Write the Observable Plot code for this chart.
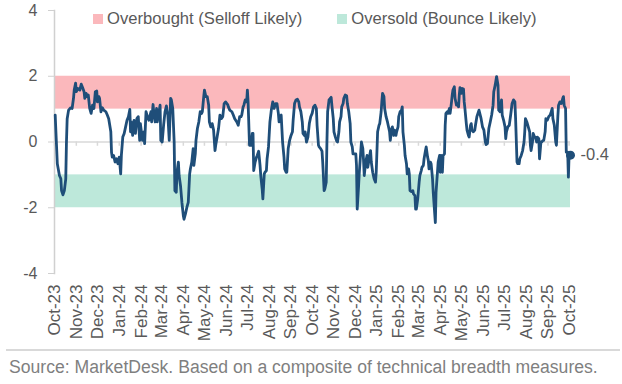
<!DOCTYPE html>
<html>
<head>
<meta charset="utf-8">
<script src="https://cdn.jsdelivr.net/npm/d3@7"></script>
<script src="https://cdn.jsdelivr.net/npm/@observablehq/plot@0.6"></script>
<style>
  html, body { margin: 0; padding: 0; background: #fff; }
  #wrap { position: relative; width: 622px; height: 384px; font-family: "Liberation Sans", Arial, sans-serif; }
  .legend { position: absolute; top: 9px; left: 93px; display: flex; font-size: 16.6px; color: #595959; white-space: nowrap; }
  .legend .item { display: flex; align-items: center; }
  .legend .sw { width: 10px; height: 10px; margin-right: 4px; }
  #caption { margin: 4px 2px 0 6px; border-top: 2px solid #d9d9d9; padding: 6px 0 0 3px; font-size: 17.6px; color: #7f7f7f; white-space: nowrap; }
</style>
</head>
<body>
<div id="wrap">
  <div id="chart"></div>
  <div class="legend" id="legend"></div>
  <div id="caption"></div>
</div>
<script>
const dates = [
"2023-10-02","2023-10-03","2023-10-05","2023-10-08","2023-10-10","2023-10-11","2023-10-13","2023-10-15","2023-10-17","2023-10-18",
"2023-10-19","2023-10-21","2023-10-24","2023-10-26","2023-10-28","2023-10-29","2023-10-31","2023-11-01","2023-11-03","2023-11-06",
"2023-11-08","2023-11-10","2023-11-12","2023-11-13","2023-11-15","2023-11-16","2023-11-18","2023-11-20","2023-11-22","2023-11-24",
"2023-11-26","2023-11-28","2023-11-30","2023-12-01","2023-12-03","2023-12-04","2023-12-06","2023-12-08","2023-12-10","2023-12-13",
"2023-12-15","2023-12-17","2023-12-20","2023-12-21","2023-12-22","2023-12-24","2023-12-26","2023-12-28","2023-12-30","2024-01-01",
"2024-01-03","2024-01-04","2024-01-06","2024-01-08","2024-01-10","2024-01-12","2024-01-14","2024-01-16","2024-01-17","2024-01-18",
"2024-01-20","2024-01-22","2024-01-24","2024-01-26","2024-01-28","2024-01-30","2024-01-31","2024-02-03","2024-02-05","2024-02-06",
"2024-02-08","2024-02-10","2024-02-12","2024-02-15","2024-02-16","2024-02-18","2024-02-19","2024-02-21","2024-02-23","2024-02-24",
"2024-02-26","2024-02-28","2024-02-29","2024-03-02","2024-03-04","2024-03-06","2024-03-08","2024-03-10","2024-03-12","2024-03-14",
"2024-03-15","2024-03-17","2024-03-19","2024-03-20","2024-03-22","2024-03-23","2024-03-25","2024-03-26","2024-03-28","2024-03-30",
"2024-04-01","2024-04-02","2024-04-04","2024-04-06","2024-04-08","2024-04-10","2024-04-11","2024-04-13","2024-04-15","2024-04-16",
"2024-04-18","2024-04-19","2024-04-21","2024-04-23","2024-04-25","2024-04-27","2024-04-28","2024-04-30","2024-05-01","2024-05-03",
"2024-05-05","2024-05-07","2024-05-08","2024-05-10","2024-05-12","2024-05-14","2024-05-16","2024-05-17","2024-05-19","2024-05-21",
"2024-05-23","2024-05-25","2024-05-27","2024-05-29","2024-05-31","2024-06-03","2024-06-04","2024-06-06","2024-06-09","2024-06-11",
"2024-06-13","2024-06-16","2024-06-18","2024-06-20","2024-06-22","2024-06-23","2024-06-25","2024-06-26","2024-06-28","2024-06-30",
"2024-07-01","2024-07-02","2024-07-04","2024-07-06","2024-07-08","2024-07-09","2024-07-10","2024-07-12","2024-07-14","2024-07-15",
"2024-07-17","2024-07-19","2024-07-20","2024-07-22","2024-07-23","2024-07-25","2024-07-26","2024-07-28","2024-07-29","2024-07-31",
"2024-08-02","2024-08-04","2024-08-06","2024-08-07","2024-08-08","2024-08-10","2024-08-12","2024-08-14","2024-08-15","2024-08-16",
"2024-08-18","2024-08-20","2024-08-22","2024-08-23","2024-08-25","2024-08-26","2024-08-28","2024-08-30","2024-09-01","2024-09-03",
"2024-09-04","2024-09-06","2024-09-08","2024-09-10","2024-09-12","2024-09-13","2024-09-15","2024-09-17","2024-09-18","2024-09-20",
"2024-09-21","2024-09-23","2024-09-25","2024-09-27","2024-09-29","2024-10-01","2024-10-03","2024-10-05","2024-10-07","2024-10-08",
"2024-10-10","2024-10-11","2024-10-13","2024-10-15","2024-10-16","2024-10-18","2024-10-19","2024-10-21","2024-10-22","2024-10-23",
"2024-10-25","2024-10-27","2024-10-28","2024-10-29","2024-10-31","2024-11-01","2024-11-03","2024-11-05","2024-11-06","2024-11-08",
"2024-11-09","2024-11-11","2024-11-12","2024-11-14","2024-11-15","2024-11-17","2024-11-19","2024-11-20","2024-11-22","2024-11-24",
"2024-11-25","2024-11-27","2024-11-28","2024-11-30","2024-12-02","2024-12-03","2024-12-04","2024-12-06","2024-12-07","2024-12-09",
"2024-12-10","2024-12-12","2024-12-13","2024-12-14","2024-12-16","2024-12-18","2024-12-19","2024-12-21","2024-12-23","2024-12-24",
"2024-12-26","2024-12-28","2024-12-30","2024-12-31","2025-01-01","2025-01-02","2025-01-04","2025-01-05","2025-01-07","2025-01-08",
"2025-01-09","2025-01-11","2025-01-12","2025-01-14","2025-01-16","2025-01-17","2025-01-19","2025-01-20","2025-01-22","2025-01-23",
"2025-01-25","2025-01-26","2025-01-28","2025-01-29","2025-01-31","2025-02-01","2025-02-03","2025-02-05","2025-02-06","2025-02-07",
"2025-02-09","2025-02-10","2025-02-12","2025-02-13","2025-02-15","2025-02-16","2025-02-17","2025-02-19","2025-02-21","2025-02-22",
"2025-02-24","2025-02-25","2025-02-26","2025-02-28","2025-03-02","2025-03-03","2025-03-05","2025-03-06","2025-03-08","2025-03-09",
"2025-03-11","2025-03-12","2025-03-14","2025-03-15","2025-03-16","2025-03-18","2025-03-19","2025-03-21","2025-03-22","2025-03-23",
"2025-03-25","2025-03-26","2025-03-28","2025-03-29","2025-03-31","2025-04-01","2025-04-02","2025-04-04","2025-04-05","2025-04-07",
"2025-04-08","2025-04-09","2025-04-11","2025-04-12","2025-04-14","2025-04-15","2025-04-17","2025-04-18","2025-04-19","2025-04-21",
"2025-04-22","2025-04-24","2025-04-25","2025-04-27","2025-04-28","2025-04-29","2025-05-01","2025-05-02","2025-05-04","2025-05-05",
"2025-05-06","2025-05-08","2025-05-09","2025-05-11","2025-05-12","2025-05-14","2025-05-15","2025-05-16","2025-05-18","2025-05-20",
"2025-05-21","2025-05-23","2025-05-26","2025-05-29","2025-05-31","2025-06-02","2025-06-04","2025-06-05","2025-06-07","2025-06-09",
"2025-06-11","2025-06-13","2025-06-15","2025-06-16","2025-06-18","2025-06-20","2025-06-22","2025-06-23","2025-06-25","2025-06-27",
"2025-06-28","2025-06-30","2025-07-02","2025-07-03","2025-07-04","2025-07-06","2025-07-08","2025-07-10","2025-07-12","2025-07-14",
"2025-07-16","2025-07-17","2025-07-19","2025-07-20","2025-07-22","2025-07-23","2025-07-25","2025-07-27","2025-07-29","2025-07-30",
"2025-07-31","2025-08-02","2025-08-04","2025-08-06","2025-08-07","2025-08-08","2025-08-10","2025-08-11","2025-08-13","2025-08-14",
"2025-08-16","2025-08-17","2025-08-19","2025-08-20","2025-08-22","2025-08-23","2025-08-25","2025-08-26","2025-08-28","2025-08-29",
"2025-08-31","2025-09-02","2025-09-04","2025-09-05","2025-09-07","2025-09-08","2025-09-10","2025-09-12","2025-09-13","2025-09-15",
"2025-09-16","2025-09-18","2025-09-20","2025-09-22","2025-09-23","2025-09-24","2025-09-26","2025-09-27","2025-09-29","2025-09-30",
"2025-10-01","2025-10-03"
];
const values = [
0.82,0.31,-0.66,-1.02,-1.12,-1.48,-1.61,-1.48,-1.12,0.00,
0.71,0.97,1.04,1.02,1.33,1.58,1.79,1.53,1.63,1.58,
1.76,1.65,1.53,1.33,1.48,1.38,1.43,1.02,0.87,1.12,
1.02,1.53,1.55,1.22,1.38,1.33,0.92,1.04,0.97,0.92,
0.82,0.71,0.31,-0.31,-0.46,-0.41,-0.61,-0.51,-0.66,-0.46,
-0.97,-0.41,0.15,0.26,0.46,0.66,0.77,0.99,0.31,0.61,
0.20,0.66,0.26,0.71,0.77,0.05,0.56,0.05,0.31,-0.05,
0.92,0.77,0.66,0.92,0.61,1.14,0.92,0.61,1.02,0.61,
0.87,1.12,0.05,0.00,0.51,0.92,1.10,0.82,0.05,1.33,
1.28,1.02,0.00,-1.48,-1.53,-0.92,-0.61,-1.02,-1.33,-1.84,
-2.24,-2.35,-2.19,-1.99,-1.84,-0.97,-0.82,-0.61,-0.20,-0.71,
-0.36,0.05,0.41,0.61,0.92,0.87,0.92,1.38,1.58,1.38,
1.38,1.12,0.61,0.46,0.56,0.36,-0.26,-0.10,0.15,0.41,
0.82,0.71,0.77,1.17,1.22,1.14,1.07,0.97,0.92,0.82,
0.71,0.61,0.51,0.77,0.77,0.82,1.07,1.12,1.28,1.22,
1.58,1.22,-0.10,-0.10,0.26,0.26,-0.87,-0.61,-0.46,-0.41,
-0.28,-0.71,-1.02,-1.43,-1.73,-0.97,-0.92,-0.87,-0.51,-0.15,
0.61,0.97,1.22,1.12,1.02,1.17,1.17,0.87,0.61,0.77,
0.82,0.00,-0.46,-0.82,-0.92,-0.92,-0.20,0.05,0.20,0.31,
0.66,1.17,1.28,1.30,1.22,1.07,0.92,0.61,0.26,0.20,
0.31,0.00,0.15,0.56,0.77,0.87,1.07,1.12,1.02,0.51,
-0.10,-0.15,-0.20,-0.28,-0.61,-1.48,-1.43,-1.22,0.00,0.92,
1.28,1.33,1.36,1.12,0.71,0.31,0.15,0.02,0.00,0.31,
0.61,0.77,1.07,1.17,1.33,1.43,1.41,1.17,0.92,0.56,
0.00,-0.15,-0.36,-0.36,-0.36,-0.71,-2.04,-1.33,-0.92,-0.31,
0.00,-0.20,-0.56,-1.02,-0.61,-0.41,-0.77,-0.51,-0.26,-0.61,
-0.92,-1.12,-1.22,-0.92,-0.31,0.31,0.51,0.56,0.92,1.22,
1.48,1.38,1.02,0.77,0.61,0.51,0.31,0.05,0.41,0.46,
0.20,0.36,0.20,0.31,0.46,0.77,0.92,0.97,1.07,0.31,
-0.10,-0.41,-0.66,-0.97,-0.82,-0.97,-1.48,-1.51,-1.48,-1.58,
-1.63,-2.04,-2.04,-1.73,-1.22,-1.02,-0.87,-0.77,-0.71,-0.51,
-0.26,-0.15,-0.46,-0.56,-0.82,-0.61,-0.66,-1.12,-1.53,-1.84,
-2.45,-1.53,-0.92,-0.61,-0.41,-0.92,-0.41,-0.92,-0.41,-0.36,
0.51,0.87,0.92,0.87,1.02,0.87,1.22,1.43,1.58,1.68,
1.33,1.12,1.17,1.07,1.43,1.65,1.48,1.63,1.61,1.22,
1.02,0.56,0.36,0.20,0.15,0.51,0.56,0.36,0.31,0.36,
0.51,0.77,0.97,0.71,0.46,0.36,0.00,-0.08,-0.05,0.41,
0.61,0.82,1.12,1.53,1.73,1.99,1.73,0.97,0.92,1.28,
0.82,0.66,0.46,0.10,0.31,0.46,0.51,0.82,1.17,1.28,
1.22,0.71,-0.61,-0.66,-0.66,-0.51,-0.41,-0.26,0.00,0.31,
0.71,0.61,0.46,0.31,-0.10,-0.26,0.00,0.26,0.15,0.15,
0.00,0.15,0.10,-0.51,0.00,0.00,0.05,0.05,0.31,0.71,
0.66,0.77,0.82,0.87,1.02,0.71,0.51,0.00,-0.10,0.77,
1.12,1.22,1.17,1.33,1.38,1.12,1.02,-0.31,-0.31,-1.07,
-0.41,-0.40
];
const yTicks = [-4, -2, 0, 2, 4];
const axisStart = "2023-10-01";
const overbought = [1, 2];
const oversold = [-2, -1];
const legendLabels = ["Overbought (Selloff Likely)", "Oversold (Bounce Likely)"];
const sourceText = "Source: MarketDesk. Based on a composite of technical breadth measures.";

const navy = "#1f4e79", pink = "#fbb8bc", mint = "#bde8da", grid = "#d9d9d9", ink = "#595959";

const series = dates.map((d, i) => ({date: new Date(d), value: values[i]}));
const x0 = new Date(axisStart);
const x1 = series[series.length - 1].date;
const last = [series[series.length - 1]];
const months = d3.utcMonth.range(x0, d3.utcDay.offset(x1, 1));

const chart = Plot.plot({
  width: 622,
  height: 345,
  marginLeft: 54,
  marginRight: 52,
  marginTop: 10,
  marginBottom: 72,
  style: {fontFamily: "'Liberation Sans', Arial, sans-serif", fontSize: "16px", color: ink, background: "#fff"},
  x: {type: "utc", domain: [x0, x1]},
  y: {domain: [-4, 4]},
  marks: [
    Plot.rect([overbought], {x1: () => x0, x2: () => x1, y1: d => d[0], y2: d => d[1], fill: pink}),
    Plot.rect([oversold], {x1: () => x0, x2: () => x1, y1: d => d[0], y2: d => d[1], fill: mint}),
    Plot.ruleY([0], {stroke: grid, strokeWidth: 1.5}),
    Plot.ruleX(months, {x: d => d, y1: 0, y2: -0.13, stroke: grid, strokeWidth: 1.5}),
    Plot.frame({anchor: "left", stroke: "#d0d0d0", strokeWidth: 1.5}),
    Plot.axisY({ticks: yTicks, tickFormat: d => String(d), tickSize: 6, tickPadding: 11, stroke: "#d0d0d0", fill: ink, fontSize: 16, label: null}),
    Plot.axisX({ticks: months, tickFormat: d3.utcFormat("%b-%y"), tickRotate: -90, tickSize: 0, tickPadding: 11, fill: ink, fontSize: 17, label: null}),
    Plot.lineY(series, {x: "date", y: "value", stroke: navy, strokeWidth: 2.8, strokeLinejoin: "round"}),
    Plot.dot(last, {x: "date", y: "value", r: 4.5, fill: navy}),
    Plot.text(last, {x: "date", y: "value", text: d => d.value.toFixed(1), dx: 10, textAnchor: "start", fontSize: 16.5, fill: ink})
  ]
});
document.getElementById("chart").append(chart);

const legend = document.getElementById("legend");
[[legendLabels[0], pink, "0"], [legendLabels[1], mint, "35px"]].forEach(([label, color, gap]) => {
  const item = document.createElement("div");
  item.className = "item";
  item.style.marginLeft = gap;
  const sw = document.createElement("span");
  sw.className = "sw";
  sw.style.background = color;
  const t = document.createElement("span");
  t.textContent = label;
  item.append(sw, t);
  legend.append(item);
});
document.getElementById("caption").textContent = sourceText;
</script>
</body>
</html>
